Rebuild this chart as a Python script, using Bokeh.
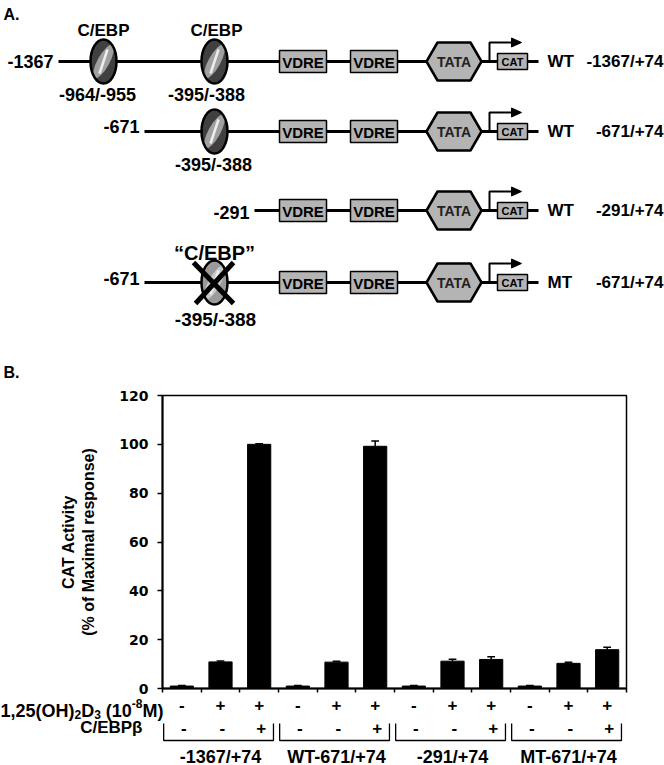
import numpy as np
from bokeh.plotting import figure
from bokeh.models import Range1d, LinearAxis, FixedTicker
from bokeh.embed import file_html
from bokeh.resources import INLINE
from bokeh.core.properties import value

FONT = "Liberation Sans"
TICK_FONT = "DejaVu Sans"

# ---------------- data: panel B ----------------
groups = ["-1367/+74", "WT-671/+74", "-291/+74", "MT-671/+74"]
vd3_signs = ["-", "+", "+", "-", "+", "+", "-", "+", "+", "-", "+", "+"]
cebpb_signs = ["-", "-", "+", "-", "-", "+", "-", "-", "+", "-", "-", "+"]
activity = [1.0, 10.9, 100.0, 1.0, 10.8, 99.2, 1.0, 11.2, 11.9, 1.0, 10.3, 15.9]
sem = [0.2, 0.4, 0.2, 0.2, 0.4, 2.2, 0.2, 0.8, 1.1, 0.2, 0.4, 1.0]
y_ticks = [0, 20, 40, 60, 80, 100, 120]

# ---------------- data: panel A ----------------
construct_start = ["-1367", "-671", "-291", "-671"]
construct_type = ["WT", "WT", "WT", "MT"]
construct_name = ["-1367/+74", "-671/+74", "-291/+74", "-671/+74"]

W = 664
H1 = 387
H2 = 309
H3 = 69


def txt(fig, x, y, s, size, align="center", baseline="middle", color="black", font=FONT):
    fig.text(x=[x], y=[y], text=[s], text_font=value(font), text_font_style="bold",
             text_font_size=f"{size}px", text_align=align, text_baseline=baseline,
             text_color=color)


# ================= panel A: promoter constructs =================
d = figure(width=W, height=H1, x_range=Range1d(0, W), y_range=Range1d(H1, 0),
           output_backend="svg", toolbar_location=None, min_border=0,
           x_axis_location=None, y_axis_location=None, outline_line_color=None)
d.grid.visible = False

row_y = [61, 131, 210, 282]
row_x0 = [58, 144, 254, 144]
start_dy = [0, -5, 2, -4]
LINE_END = 538
GREY = "#b4b4b4"


def cebp_site(x, y, crossed=False):
    base = "#9a9a9a" if crossed else "#404040"
    d.ellipse(x=[x], y=[y], width=26, height=44, fill_color=base, line_color=None)
    d.ellipse(x=[x], y=[y], width=12, height=38, angle=-0.5,
              fill_color="#a0a0a0" if not crossed else "#c8c8c8", line_color=None)
    d.segment(x0=[x - 4], y0=[y + 12], x1=[x + 4], y1=[y - 12],
              line_color="#eeeeee", line_width=2.5)
    d.ellipse(x=[x], y=[y], width=26, height=44, fill_color=None,
              line_color="black", line_width=2.5)
    if crossed:
        d.segment(x0=[x - 21, x + 19], y0=[y - 20, y - 20], x1=[x + 19, x - 19],
                  y1=[y + 21, y + 21], line_color="black", line_width=5)


for i, y in enumerate(row_y):
    x0 = row_x0[i]
    d.line([x0, LINE_END], [y, y], line_color="black", line_width=3)
    # VDRE boxes
    d.quad(left=[279, 350], right=[326, 397], top=[y - 11, y - 11], bottom=[y + 11, y + 11],
           fill_color=GREY, line_color="black", line_width=1.5)
    txt(d, 302.5, y + 0.5, "VDRE", 15)
    txt(d, 373.5, y + 0.5, "VDRE", 15)
    # TATA hexagon
    d.patch([426, 437, 470, 481, 470, 437], [y, y - 19, y - 19, y, y + 19, y + 19],
            fill_color=GREY, line_color="black", line_width=2.5)
    txt(d, 453.5, y + 0.5, "TATA", 14, color="#222222")
    # transcription start arrow
    d.line([489, 489, 513], [y, y - 19, y - 19], line_color="black", line_width=2)
    d.patch([511, 521, 511], [y - 23.5, y - 19, y - 14.5], fill_color="black", line_color="black")
    # CAT box
    d.quad(left=[497], right=[527], top=[y - 8], bottom=[y + 8],
           fill_color=GREY, line_color="black", line_width=1.5)
    txt(d, 512, y + 0.5, "CAT", 11)
    # labels
    txt(d, x0 - 5, y + start_dy[i], construct_start[i], 18, align="right")
    txt(d, 547, y, construct_type[i], 17, align="left")
    txt(d, 663, y, construct_name[i], 17, align="right")

# C/EBP sites
cebp_site(103, row_y[0])
cebp_site(214, row_y[0])
cebp_site(214, row_y[1])
cebp_site(214, row_y[3], crossed=True)
txt(d, 103, 30, "C/EBP", 17)
txt(d, 216, 30, "C/EBP", 17)
txt(d, 97, 94, "-964/-955", 18)
txt(d, 206, 94, "-395/-388", 18)
txt(d, 213, 164, "-395/-388", 18)
txt(d, 214, 252, "\u201cC/EBP\u201d", 20)
txt(d, 215, 319, "-395/-388", 19)
txt(d, 3, 14, "A.", 16, align="left")
txt(d, 3, 372, "B.", 16, align="left")

# ================= panel B: bar chart =================
xc = np.arange(len(activity)) + 0.5
act = np.array(activity)
err = np.array(sem)

p = figure(width=W, height=H2, x_range=Range1d(0, 12), y_range=Range1d(0, 120),
           output_backend="svg", toolbar_location=None,
           min_border_left=162, min_border_right=38, min_border_top=8, min_border_bottom=8)
p.grid.visible = False
p.outline_line_color = "black"
p.outline_line_width = 1.5

p.vbar(x=xc, top=act, width=0.6, fill_color="black", line_color="black")
p.segment(x0=xc, y0=act, x1=xc, y1=act + err, line_color="black", line_width=1.5)
p.segment(x0=xc - 0.1, y0=act + err, x1=xc + 0.1, y1=act + err, line_color="black", line_width=1.5)

p.xaxis.ticker = FixedTicker(ticks=list(range(13)))
p.xaxis.major_label_text_font_size = "1px"
p.xaxis.major_label_text_color = None
p.xaxis.major_label_standoff = 0
p.xaxis.major_tick_out = 4
p.xaxis.major_tick_in = 0
p.xaxis.minor_tick_line_color = None
p.xaxis.axis_line_width = 2
p.xaxis.major_tick_line_width = 1.5

ya = p.yaxis[0]
ya.ticker = FixedTicker(ticks=y_ticks)
ya.major_label_text_font = TICK_FONT
ya.major_label_text_font_style = "bold"
ya.major_label_text_font_size = "14px"
ya.major_label_text_color = "black"
ya.major_label_standoff = 9
ya.major_tick_out = 5
ya.major_tick_in = 0
ya.minor_tick_line_color = None
ya.axis_line_width = 2
ya.major_tick_line_width = 1.5
ya.axis_label = "(% of Maximal response)"
ya.axis_label_text_font = FONT
ya.axis_label_text_font_style = "bold"
ya.axis_label_text_font_size = "16px"
ya.axis_label_text_color = "black"
ya.axis_label_standoff = 19

ya2 = LinearAxis(ticker=FixedTicker(ticks=[]), axis_line_color=None,
                 major_tick_line_color=None, minor_tick_line_color=None,
                 major_label_text_font_size="1px", major_label_text_color=None,
                 axis_label="CAT Activity",
                 axis_label_text_font=FONT, axis_label_text_font_style="bold",
                 axis_label_text_font_size="16px", axis_label_text_color="black",
                 axis_label_standoff=1)
p.add_layout(ya2, "left")

# ================= panel B: treatment table =================
ppu = 464 / 12.0


def px(wx):
    return (wx - 162) / ppu


T0 = H1 + H2
t = figure(width=W, height=H3, x_range=Range1d(px(0), px(W)), y_range=Range1d(T0 + H3, T0),
           output_backend="svg", toolbar_location=None, min_border=0,
           x_axis_location=None, y_axis_location=None, outline_line_color=None)
t.grid.visible = False

t.text(x=xc, y=[704] * 12, text=vd3_signs, text_font=value(FONT), text_font_style="bold",
       text_font_size="17px", text_align="center", text_baseline="middle")
t.text(x=xc + 0.05, y=[727] * 12, text=cebpb_signs, text_font=value(FONT), text_font_style="bold",
       text_font_size="17px", text_align="center", text_baseline="middle")

# row label 1,25(OH)2D3 (10-8M) built from pieces
em = {'1': .556, ',': .278, '2': .556, '5': .556, '(': .333, 'O': .778, 'H': .722, ')': .333,
      'D': .722, '3': .556, ' ': .278, '0': .556, '-': .333, '8': .556, 'M': .833}
pieces = [("1,25(OH)", 18, 0), ("2", 12, 4), ("D", 18, 0), ("3", 12, 4), (" ", 18, 0),
          ("(10", 18, 0), ("-8", 12, -7), ("M)", 18, 0)]
widths = [sum(em[c] for c in s) * sz for s, sz, _ in pieces]
cur = 163 - sum(widths)
base = 710
for (s, sz, dy), w in zip(pieces, widths):
    if s.strip():
        t.text(x=[px(cur)], y=[base + dy], text=[s], text_font=value(FONT), text_font_style="bold",
               text_font_size=f"{sz}px", text_align="left", text_baseline="alphabetic")
    cur += w

t.text(x=[px(142)], y=[727], text=["C/EBP\u03b2"], text_font=value(FONT), text_font_style="bold",
       text_font_size="17px", text_align="right", text_baseline="middle")

bx, by = [], []
for g in range(len(groups)):
    a, b = 3 * g + 0.03, 3 * g + 2.87
    bx.append([a, a, b, b])
    by.append([723, 740, 740, 723])
t.multi_line(xs=bx, ys=by, line_color="black", line_width=1.3)
t.text(x=[3 * g + 1.5 for g in range(len(groups))], y=[756] * len(groups), text=groups,
       text_font=value(FONT), text_font_style="bold", text_font_size="18px",
       text_align="center", text_baseline="middle")

open("out.html", "w").write(file_html([d, p, t], INLINE))
